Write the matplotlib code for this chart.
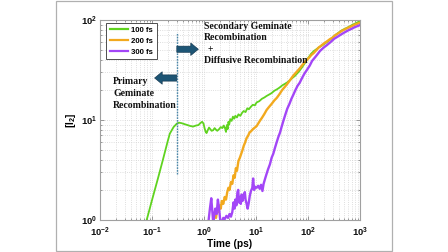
import math
import matplotlib
matplotlib.use("Agg")
import matplotlib.pyplot as plt
from matplotlib.patches import Rectangle
from matplotlib.ticker import FixedLocator, FuncFormatter, LogLocator, NullFormatter

plt.rcParams['mathtext.fontset'] = 'custom'
plt.rcParams['mathtext.rm'] = 'Liberation Sans:bold'
plt.rcParams['mathtext.bf'] = 'Liberation Sans:bold'
plt.rcParams['mathtext.it'] = 'Liberation Sans:bold'
plt.rcParams['font.family'] = ['Liberation Sans', 'DejaVu Sans']

# ---- data ----
t_100 = [0.079, 0.1, 0.13, 0.16, 0.2, 0.22, 0.26, 0.3, 0.33, 0.37, 0.42, 0.48, 0.55,
         0.62, 0.7, 0.78, 0.85, 0.92, 0.98, 1.03, 1.08, 1.12, 1.18, 1.25, 1.32, 1.4,
         1.5, 1.6, 1.7, 1.8, 1.95, 2.1, 2.25, 2.4, 2.55, 2.65, 2.75, 2.85, 2.95, 3.05,
         3.2, 3.4, 3.6, 3.8, 4.0, 4.3, 4.6, 5.0, 5.4, 5.8, 6.3, 6.8, 7.3, 8.0, 8.7,
         9.5, 10.3, 11.5, 13, 14.5, 16, 18, 20, 22.5, 25, 28, 32, 36, 40, 45, 50, 56,
         63, 70, 78, 87, 95, 105, 115, 130, 145, 160, 180, 200, 230, 260, 300, 340,
         390, 450, 520, 600, 700, 800, 900, 1000]
v_100 = [1.0, 1.58, 2.6, 3.9, 6.1, 7.3, 8.5, 9.2, 9.4, 9.3, 9.1, 8.9, 8.7,
         8.6, 8.8, 8.9, 9.3, 9.6, 9.2, 8.2, 7.6, 7.4, 7.9, 8.4, 8.1, 7.8,
         7.9, 8.3, 8.0, 7.8, 8.1, 8.5, 8.3, 8.8, 8.2, 7.6, 8.9, 8.1, 9.6, 9.0,
         10.2, 9.8, 10.8, 10.3, 11.0, 10.6, 11.4, 11.0, 11.8, 12.3, 12.0, 13.1, 12.8, 13.6, 14.2,
         14.0, 15.0, 15.4, 16.3, 16.8, 17.4, 18.0, 18.6, 19.6, 20.2, 21.0, 22.2, 23.0, 23.8, 25.0, 26.3, 27.6,
         29.5, 31.5, 34, 37, 40, 43, 46, 49, 51, 53, 55, 57, 60, 63, 67, 71,
         75, 79, 82, 85, 89, 92, 95, 97]

t_200 = [1.5, 1.6, 1.7, 1.8, 1.9, 2.0, 2.1, 2.2, 2.35, 2.5, 2.65, 2.8, 2.95, 3.1,
         3.3, 3.5, 3.7, 3.9, 4.1, 4.3, 4.6, 4.9, 5.2, 5.5, 5.8, 6.2, 6.6, 7.0, 7.5,
         8.0, 8.7, 9.5, 10.3, 11, 12, 13, 14.5, 16, 18, 20, 22.5, 25, 28, 32, 36, 40,
         45, 50, 56, 63, 70, 78, 87, 95, 105, 115, 130, 145, 160, 180, 200, 230, 260,
         300, 340, 390, 450, 520, 600, 700, 800, 900, 1000]
v_200 = [0.95, 1.15, 1.05, 1.3, 1.2, 1.4, 1.3, 1.55, 1.45, 1.7, 1.6, 1.9, 2.1, 2.0,
         2.4, 2.3, 2.8, 2.65, 3.3, 3.1, 3.9, 4.2, 4.6, 5.0, 5.5, 6.0, 6.6, 6.9, 7.5,
         7.7, 8.1, 8.4, 8.7, 9.2, 9.9, 10.5, 11.5, 12.6, 13.6, 14.5, 15.7, 16.6, 18, 20, 21.5, 23,
         25, 27, 29, 31, 33, 35.5, 38, 40, 42, 44.5, 47, 50, 53, 55.5, 58, 61, 64,
         67, 71, 74, 78, 81, 84, 87, 90, 92, 94]

t_300 = [1.2, 1.3, 1.38, 1.45, 1.5, 1.65, 1.75, 1.85, 1.95, 2.05, 2.2, 2.35, 2.5,
         2.7, 2.9, 3.1, 3.3, 3.5, 3.7, 3.85, 4.0, 4.2, 4.4, 4.55, 4.7, 4.9, 5.1, 5.3,
         5.5, 5.8, 6.1, 6.3, 6.6, 6.9, 7.2, 7.6, 8.0, 8.5, 8.8, 9.2, 9.6, 10.3, 11,
         11.8, 12.5, 13.3, 14, 15, 16, 17, 18.5, 20, 21.5, 23, 25, 27, 29, 31, 34, 37,
         40, 44, 48, 52, 57, 63, 69, 76, 85, 95, 108, 120, 135, 150, 170, 200, 230,
         270, 320, 370, 420, 500, 600, 700, 800, 900, 1000]
v_300 = [0.9, 1.3, 1.65, 1.2, 0.95, 1.3, 1.15, 1.6, 1.3, 1.0, 0.95, 1.05, 1.02,
         1.1, 1.05, 1.15, 1.08, 1.2, 1.5, 1.3, 1.6, 1.4, 1.9, 2.0, 1.5, 1.7, 1.45, 1.8,
         1.55, 1.75, 1.9, 1.6, 1.45, 1.3, 1.45, 1.75, 1.95, 2.1, 2.6, 2.0, 2.15, 2.1, 2.2,
         2.05, 2.25, 1.95, 2.3, 2.6, 2.9, 3.2, 3.6, 4.2, 4.6, 5.2, 6.0, 6.8, 7.5, 8.5, 10, 11.5,
         13, 14.5, 16.3, 17.8, 19.8, 22, 23.5, 26, 29, 31.6, 35, 39, 42, 45, 49, 53, 56,
         60, 65, 68, 71, 75, 79, 82, 85, 87, 89]

labels = ['100 fs', '200 fs', '300 fs']
colors = ['#5fd31f', '#f2a91e', '#a346f7']

x_ticks = [1e-2, 1e-1, 1e0, 1e1, 1e2, 1e3]
y_ticks = [1e0, 1e1, 1e2]

divider_t = 0.3
divider_v = (2.9, 74)

fig = plt.figure(figsize=(4.48, 2.52), dpi=100)
fig.add_artist(Rectangle((56/448, 1-251/252), (392-56)/448, 250/252,
                         transform=fig.transFigure, fill=False, ec='#b0b0b0', lw=0.9))
ax = fig.add_axes([100/448, 1-220/252, 260/448, 200/252])

ax.plot(t_100, v_100, color=colors[0], lw=1.3, label=labels[0])
ax.plot(t_200, v_200, color=colors[1], lw=1.7, label=labels[1])
ax.plot(t_300, v_300, color=colors[2], lw=1.7, label=labels[2])

ax.set_xscale('log')
ax.set_yscale('log')
ax.set_xlim(1e-2, 1e3)
ax.set_ylim(1, 100)

ax.xaxis.set_major_locator(FixedLocator(x_ticks))
ax.yaxis.set_major_locator(FixedLocator(y_ticks))
ax.xaxis.set_minor_locator(LogLocator(base=10, subs=range(2, 10)))
ax.yaxis.set_minor_locator(LogLocator(base=10, subs=range(2, 10)))
fmt = FuncFormatter(lambda v, p: r'$10^{%d}$' % round(math.log10(v)))
ax.xaxis.set_major_formatter(fmt)
ax.yaxis.set_major_formatter(fmt)
ax.xaxis.set_minor_formatter(NullFormatter())
ax.yaxis.set_minor_formatter(NullFormatter())

ax.tick_params(which='both', direction='in', top=True, right=True, colors='#888888',
               labelcolor='#111111', labelsize=6.8, width=0.6)
ax.tick_params(which='major', length=3)
ax.tick_params(axis='x', which='major', pad=4)
ax.tick_params(axis='y', which='major', pad=2)
ax.tick_params(which='minor', length=1.5)
for s in ax.spines.values():
    s.set_color('#a0a0a0')
    s.set_linewidth(0.8)
ax.grid(True, which='both', ls=':', color='#d4d4d4', lw=0.6)

ax.set_xlabel('Time (ps)', fontsize=7.3, fontweight='bold', labelpad=0)
ax.set_ylabel(r'[I$_2$]', fontsize=7.3, fontweight='bold', labelpad=2)

ax.vlines(divider_t, divider_v[0], divider_v[1], colors='#4a86a8', linestyles=(0, (1.2, 0.8)), lw=1.0)

arrow_c = '#1d5575'
ax.annotate('', xy=(0.78, 51), xytext=(0.3, 51),
            arrowprops=dict(arrowstyle='simple,head_length=0.55,head_width=0.9,tail_width=0.45',
                            fc=arrow_c, ec='#0e3048', lw=0.4, shrinkA=0, shrinkB=0))
ax.annotate('', xy=(0.112, 26.3), xytext=(0.3, 26.3),
            arrowprops=dict(arrowstyle='simple,head_length=0.55,head_width=0.9,tail_width=0.45',
                            fc=arrow_c, ec='#0e3048', lw=0.4, shrinkA=0, shrinkB=0))

tkw = dict(family=['Liberation Serif', 'DejaVu Serif'], fontweight='bold', fontsize=7.0, color='#111111')
ax.text(1.0, 96, 'Secondary Geminate\nRecombination', ha='left', va='top', linespacing=1.25, **tkw)
ax.text(1.3, 51, '+', ha='center', va='center', **tkw)
ax.text(1.0, 39.5, 'Diffusive Recombination', ha='left', va='center', **tkw)
ax.text(0.0178, 27, 'Primary\nGeminate\nRecombination', ha='left', va='top', linespacing=1.45, **tkw)

leg = ax.legend(loc='upper left', bbox_to_anchor=(6/260, 1-3/200), borderaxespad=0,
                prop=dict(family='Liberation Sans', weight='bold', size=5.6),
                handlelength=2.4, handletextpad=0.4, labelspacing=0.45,
                borderpad=0.45, fancybox=False, framealpha=1)
leg.get_frame().set_edgecolor('#333333')
leg.get_frame().set_linewidth(0.6)
for line in leg.get_lines():
    line.set_linewidth(1.6)

fig.savefig('out.png', dpi=100)
